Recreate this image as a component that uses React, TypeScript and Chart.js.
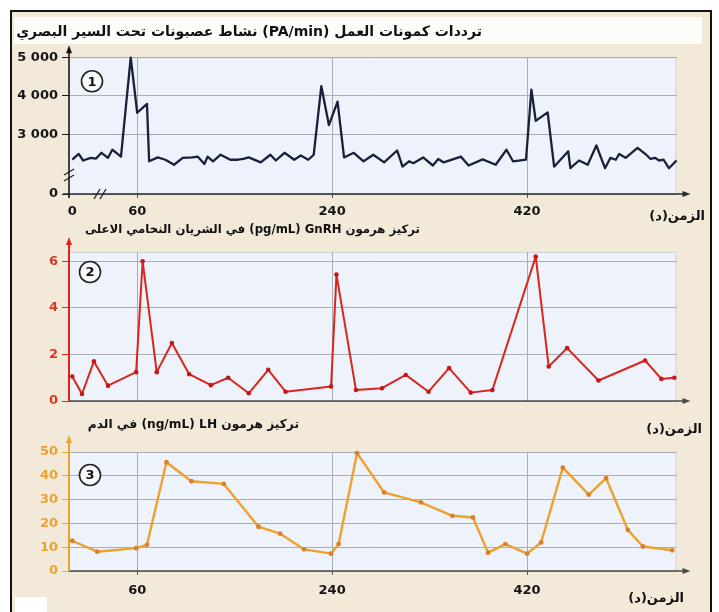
import React, { useEffect, useRef } from 'react';
import { Chart, registerables } from 'chart.js';

Chart.register(...registerables);

// ---------- data ----------
const TIME_TICKS = [0, 60, 240, 420];
const TIME_TICKS_NO_ZERO = [60, 240, 420];
const TIME_MIN = -3;
const TIME_MAX = 558;

// Panel 1 : action potential frequency (PA/min). Axis is broken: bottom tick "0"
const PA_AXIS_FLOOR = 1450; // value placed at the broken-axis "0" tick
const PA_TICKS = [PA_AXIS_FLOOR, 3000, 4000, 5000];
const PA_TICK_LABELS = ['0', '3 000', '4 000', '5 000'];
const PA_TIMES = [0, 6, 10, 17, 22, 27, 33, 37, 45, 54, 60, 69, 71, 79, 86, 94, 102, 111, 116, 122, 125, 130, 137, 146, 153, 158, 163, 174, 183, 188, 196, 205, 211, 218, 223, 230, 237, 245, 251, 260, 269, 278, 288, 300, 305, 311, 315, 324, 333, 338, 343, 359, 366, 379, 391, 401, 407, 419, 424, 428, 439, 445, 458, 460, 468, 476, 484, 492, 497, 502, 505, 511, 522, 530, 534, 538, 542, 546, 551, 558];
const PA_VALUES = [2340, 2490, 2320, 2390, 2370, 2520, 2390, 2600, 2420, 4990, 3560, 3790, 2300, 2400, 2340, 2210, 2390, 2400, 2420, 2230, 2420, 2300, 2470, 2340, 2340, 2360, 2400, 2270, 2470, 2320, 2520, 2340, 2450, 2340, 2470, 4250, 3240, 3850, 2400, 2520, 2300, 2470, 2270, 2580, 2160, 2300, 2250, 2400, 2190, 2360, 2270, 2420, 2190, 2350, 2210, 2600, 2300, 2340, 4160, 3350, 3570, 2160, 2560, 2120, 2320, 2210, 2710, 2120, 2390, 2340, 2490, 2390, 2650, 2470, 2360, 2390, 2320, 2340, 2120, 2320];

// Panel 2 : GnRH (pg/mL)
const GNRH_TICKS = [0, 2, 4, 6];
const GNRH_TIMES = [0, 9, 20, 33, 59, 65, 78, 92, 108, 128, 144, 163, 181, 197, 239, 244, 262, 286, 308, 329, 348, 368, 388, 428, 440, 457, 486, 529, 544, 556];
const GNRH_VALUES = [1.05, 0.3, 1.7, 0.66, 1.24, 6.0, 1.24, 2.49, 1.15, 0.68, 1.0, 0.33, 1.34, 0.4, 0.62, 5.43, 0.47, 0.55, 1.12, 0.4, 1.41, 0.36, 0.47, 6.2, 1.48, 2.27, 0.88, 1.74, 0.95, 1.0];

// Panel 3 : LH (ng/mL)
const LH_TICKS = [0, 10, 20, 30, 40, 50];
const LH_TIMES = [0, 23, 59, 69, 87, 110, 140, 172, 192, 214, 239, 246, 263, 288, 322, 351, 370, 384, 400, 420, 433, 453, 477, 493, 513, 527, 554];
const LH_VALUES = [12.7, 8.1, 9.6, 11.0, 45.7, 37.7, 36.6, 18.6, 15.7, 9.1, 7.3, 11.3, 49.5, 33.0, 28.8, 23.2, 22.5, 7.7, 11.3, 7.3, 12.0, 43.4, 32.1, 39.0, 17.3, 10.3, 8.7];

const TITLE_1 = 'ترددات كمونات العمل (PA/min) نشاط عصبونات تحت السير البصري';
const TITLE_2 = 'تركيز هرمون GnRH\u200F (pg/mL) في الشريان النخامي الاعلى';
const TITLE_3 = 'تركيز هرمون LH\u200F (ng/mL) في الدم';
const X_TITLE = 'الزمن(د)';

// ---------- style ----------
const W = 719;
const H = 612;
const FONT = '"DejaVu Sans", "Noto Sans", sans-serif';
const PLOT_BG = '#eef2fa';
const PAGE_BG = '#f2e9d8';
const GRID = '#a9adb5';
const Y_AXIS_W = 69;
const X_AXIS_H = 30;
const PLOT_RIGHT = 676.5;

interface PanelCfg {
  num: string;
  times: number[];
  values: number[];
  yMin: number;
  yMax: number;
  yTicks: number[];
  yLabel: (v: number) => string;
  xTicks: number[];
  showXLabels: boolean;
  xLabelPad: number;
  top: number;
  bottom: number;
  lineColor: string;
  lineWidth: number;
  pointRadius: number;
  pointColor: string;
  tickColor: string;
  tickWeight: string;
  yAxisColor: string;
  yAxisWidth: number;
  xAxisColor: string;
  arrowExt: number;
  yAxisDown: number;
  xAxisLeft: number;
  numDx: number;
  numDy: number;
  breaks: boolean;
}

function decoPlugin(cfg: PanelCfg) {
  return {
    id: 'deco' + cfg.num,
    beforeDraw(chart: any) {
      const { ctx, chartArea: a } = chart;
      ctx.save();
      ctx.fillStyle = PLOT_BG;
      ctx.fillRect(a.left, a.top, a.right - a.left, a.bottom - a.top);
      ctx.strokeStyle = '#cdd1d8';
      ctx.lineWidth = 1;
      ctx.beginPath();
      ctx.moveTo(a.left, a.top + 0.5);
      ctx.lineTo(a.right - 0.5, a.top + 0.5);
      ctx.lineTo(a.right - 0.5, a.bottom);
      ctx.stroke();
      ctx.restore();
    },
    afterDraw(chart: any) {
      const { ctx, chartArea: a } = chart;
      ctx.save();
      // x axis with arrow
      const xEnd = a.right + 14;
      ctx.strokeStyle = cfg.xAxisColor;
      ctx.fillStyle = cfg.xAxisColor;
      ctx.lineWidth = 1.6;
      ctx.beginPath();
      ctx.moveTo(a.left - cfg.xAxisLeft, a.bottom);
      ctx.lineTo(xEnd - 5, a.bottom);
      ctx.stroke();
      ctx.beginPath();
      ctx.moveTo(xEnd, a.bottom);
      ctx.lineTo(xEnd - 8, a.bottom - 3);
      ctx.lineTo(xEnd - 8, a.bottom + 3);
      ctx.closePath();
      ctx.fill();
      // y axis with arrow
      const yTip = a.top - cfg.arrowExt;
      ctx.strokeStyle = cfg.yAxisColor;
      ctx.fillStyle = cfg.yAxisColor;
      ctx.lineWidth = cfg.yAxisWidth;
      ctx.beginPath();
      ctx.moveTo(a.left, a.bottom + cfg.yAxisDown);
      ctx.lineTo(a.left, yTip + 5);
      ctx.stroke();
      ctx.beginPath();
      ctx.moveTo(a.left, yTip);
      ctx.lineTo(a.left - 3, yTip + 8);
      ctx.lineTo(a.left + 3, yTip + 8);
      ctx.closePath();
      ctx.fill();
      // axis breaks
      if (cfg.breaks) {
        ctx.strokeStyle = '#222';
        ctx.lineWidth = 1.3;
        const yb = a.bottom - 19;
        for (const d of [-3, 3]) {
          ctx.beginPath();
          ctx.moveTo(a.left - 5, yb + d + 3);
          ctx.lineTo(a.left + 5, yb + d - 3);
          ctx.stroke();
        }
        const xb = a.left + 31;
        for (const d of [-3, 3]) {
          ctx.beginPath();
          ctx.moveTo(xb + d - 3, a.bottom + 5);
          ctx.lineTo(xb + d + 3, a.bottom - 5);
          ctx.stroke();
        }
      }
      // circled panel number
      const cx = a.left + cfg.numDx;
      const cy = a.top + cfg.numDy;
      ctx.beginPath();
      ctx.arc(cx, cy, 10.5, 0, Math.PI * 2);
      ctx.fillStyle = '#f7f8fc';
      ctx.fill();
      ctx.strokeStyle = '#222';
      ctx.lineWidth = 1.6;
      ctx.stroke();
      ctx.fillStyle = '#111';
      ctx.font = 'bold 13px ' + FONT;
      ctx.textAlign = 'center';
      ctx.textBaseline = 'middle';
      ctx.fillText(cfg.num, cx, cy + 1);
      ctx.restore();
    },
  };
}

function buildChart(canvas: HTMLCanvasElement, cfg: PanelCfg) {
  const tickFont = { family: FONT, size: 13, weight: cfg.tickWeight as any };
  return new Chart(canvas, {
    type: 'line',
    data: {
      datasets: [
        {
          data: cfg.times.map((t, i) => ({ x: t, y: cfg.values[i] })),
          borderColor: cfg.lineColor,
          borderWidth: cfg.lineWidth,
          borderJoinStyle: 'round',
          pointRadius: cfg.pointRadius,
          pointBackgroundColor: cfg.pointColor,
          pointBorderWidth: 0,
          tension: 0,
          clip: false as any,
        },
      ],
    },
    options: {
      animation: false,
      responsive: false,
      maintainAspectRatio: false,
      devicePixelRatio: 1,
      events: [],
      layout: {
        padding: {
          left: 0,
          right: W - PLOT_RIGHT,
          top: cfg.top,
          bottom: H - cfg.bottom - X_AXIS_H,
        },
      },
      plugins: { legend: { display: false }, tooltip: { enabled: false }, title: { display: false } },
      scales: {
        x: {
          type: 'linear',
          min: TIME_MIN,
          max: TIME_MAX,
          afterBuildTicks: (s: any) => {
            s.ticks = cfg.xTicks.map((v) => ({ value: v }));
          },
          afterFit: (s: any) => {
            s.height = X_AXIS_H;
          },
          ticks: {
            display: cfg.showXLabels,
            color: '#151515',
            font: { family: FONT, size: 13, weight: 'bold' },
            padding: cfg.xLabelPad,
            autoSkip: false,
            maxRotation: 0,
            callback: (v: any) => String(v),
          },
          grid: {
            color: (c: any) => (c.tick && c.tick.value === 0 ? 'rgba(0,0,0,0)' : GRID),
            lineWidth: 1,
            drawTicks: cfg.showXLabels,
            tickLength: 4,
            tickColor: (c: any) => (c.tick && c.tick.value === 0 ? 'rgba(0,0,0,0)' : '#555'),
          },
          border: { display: false },
        },
        y: {
          type: 'linear',
          min: cfg.yMin,
          max: cfg.yMax,
          afterBuildTicks: (s: any) => {
            s.ticks = cfg.yTicks.map((v) => ({ value: v }));
          },
          afterFit: (s: any) => {
            s.width = Y_AXIS_W;
          },
          ticks: {
            color: cfg.tickColor,
            font: tickFont,
            padding: 4,
            callback: (v: any) => cfg.yLabel(Number(v)),
          },
          grid: {
            color: GRID,
            lineWidth: 1,
            tickLength: 7,
            tickColor: cfg.yAxisColor,
          },
          border: { display: false },
        },
      },
    } as any,
    plugins: [decoPlugin(cfg)],
  });
}

const PANEL_1: PanelCfg = {
  num: '1',
  times: PA_TIMES,
  values: PA_VALUES,
  yMin: PA_AXIS_FLOOR,
  yMax: 5000,
  yTicks: PA_TICKS,
  yLabel: (v) => PA_TICK_LABELS[PA_TICKS.indexOf(v)] ?? '',
  xTicks: TIME_TICKS,
  showXLabels: true,
  xLabelPad: 6,
  top: 57.3,
  bottom: 194,
  lineColor: '#18213b',
  lineWidth: 2.3,
  pointRadius: 0,
  pointColor: '#18213b',
  tickColor: '#161616',
  tickWeight: 'bold',
  yAxisColor: '#161616',
  yAxisWidth: 1.6,
  xAxisColor: '#2a2a2a',
  arrowExt: 12,
  yAxisDown: 4,
  xAxisLeft: 6,
  numDx: 23,
  numDy: 24,
  breaks: true,
};

const PANEL_2: PanelCfg = {
  num: '2',
  times: GNRH_TIMES,
  values: GNRH_VALUES,
  yMin: 0,
  yMax: 6.4,
  yTicks: GNRH_TICKS,
  yLabel: (v) => String(v),
  xTicks: TIME_TICKS_NO_ZERO,
  showXLabels: false,
  xLabelPad: 6,
  top: 252,
  bottom: 401,
  lineColor: '#d6261d',
  lineWidth: 2,
  pointRadius: 2.3,
  pointColor: '#c21a16',
  tickColor: '#d83a2a',
  tickWeight: 'bold',
  yAxisColor: '#d6261d',
  yAxisWidth: 2,
  xAxisColor: '#4a4a4a',
  arrowExt: 15,
  yAxisDown: 0,
  xAxisLeft: 0,
  numDx: 21,
  numDy: 20,
  breaks: false,
};

const PANEL_3: PanelCfg = {
  num: '3',
  times: LH_TIMES,
  values: LH_VALUES,
  yMin: 0,
  yMax: 50,
  yTicks: LH_TICKS,
  yLabel: (v) => String(v),
  xTicks: TIME_TICKS_NO_ZERO,
  showXLabels: true,
  xLabelPad: 8,
  top: 452,
  bottom: 571,
  lineColor: '#eba22e',
  lineWidth: 2.4,
  pointRadius: 2.4,
  pointColor: '#d9802b',
  tickColor: '#eba233',
  tickWeight: 'bold',
  yAxisColor: '#eba22e',
  yAxisWidth: 2,
  xAxisColor: '#4a4a4a',
  arrowExt: 17,
  yAxisDown: 0,
  xAxisLeft: 0,
  numDx: 21,
  numDy: 23,
  breaks: false,
};

function TextLabel(props: { text: string; right: number; top: number; size: number }) {
  return (
    <div
      dir="rtl"
      style={{
        position: 'absolute',
        right: props.right,
        top: props.top,
        font: `bold ${props.size}px ${FONT}`,
        lineHeight: '18px',
        whiteSpace: 'nowrap',
        color: '#111',
        textAlign: 'right',
      }}
    >
      {props.text}
    </div>
  );
}

export default function App() {
  const c1 = useRef<HTMLCanvasElement>(null);
  const c2 = useRef<HTMLCanvasElement>(null);
  const c3 = useRef<HTMLCanvasElement>(null);

  useEffect(() => {
    const charts: Chart[] = [];
    if (c1.current) charts.push(buildChart(c1.current, PANEL_1));
    if (c2.current) charts.push(buildChart(c2.current, PANEL_2));
    if (c3.current) charts.push(buildChart(c3.current, PANEL_3));
    return () => charts.forEach((c) => c.destroy());
  }, []);

  const canvasStyle: React.CSSProperties = { position: 'absolute', left: 0, top: 0, width: W, height: H };

  return (
    <div style={{ position: 'fixed', left: 0, top: 0, width: W, height: H, background: '#ffffff', overflow: 'hidden' }}>
      <div
        style={{
          position: 'absolute',
          left: 10,
          top: 10,
          width: 702,
          height: 612,
          boxSizing: 'border-box',
          border: '2px solid #121212',
          background: PAGE_BG,
        }}
      />
      <div style={{ position: 'absolute', left: 14, top: 17, width: 688, height: 27, background: '#fcfcfb' }} />
      <div style={{ position: 'absolute', left: 15, top: 597, width: 32, height: 15, background: '#ffffff' }} />
      <canvas ref={c1} width={W} height={H} style={canvasStyle} />
      <canvas ref={c2} width={W} height={H} style={canvasStyle} />
      <canvas ref={c3} width={W} height={H} style={canvasStyle} />
      <TextLabel text={TITLE_1} right={W - 482} top={22} size={14} />
      <TextLabel text={TITLE_2} right={W - 420} top={220} size={11.7} />
      <TextLabel text={TITLE_3} right={W - 299} top={415} size={12.2} />
      <TextLabel text={X_TITLE} right={14} top={207} size={13} />
      <TextLabel text={X_TITLE} right={17} top={420} size={13} />
      <TextLabel text={X_TITLE} right={35} top={589} size={13} />
    </div>
  );
}
